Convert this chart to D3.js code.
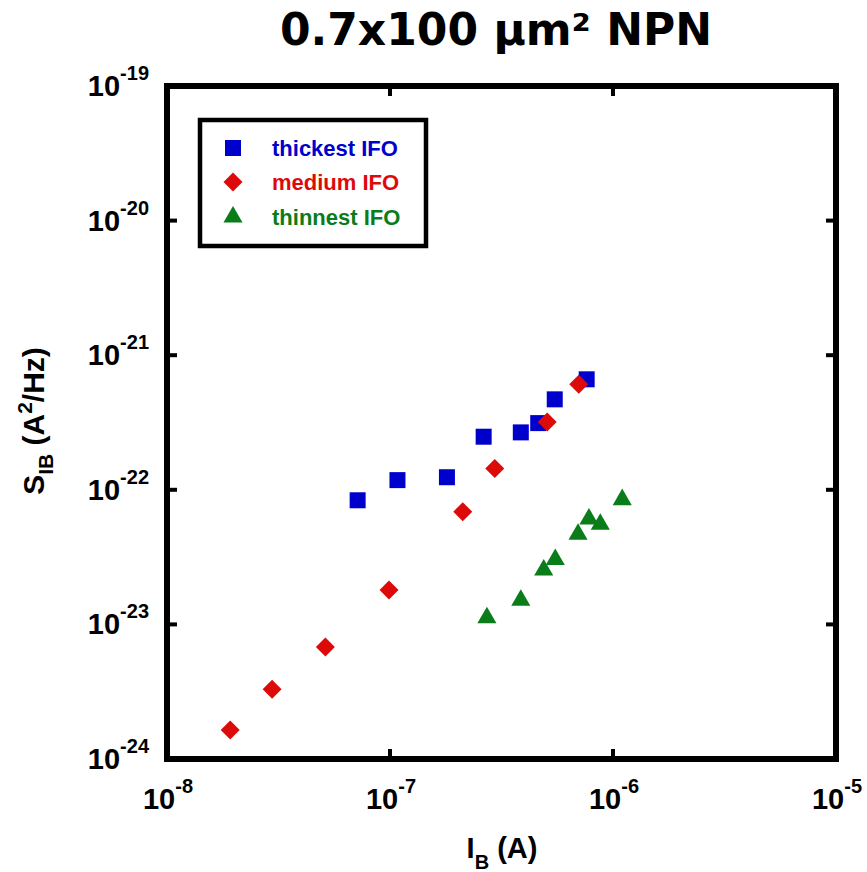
<!DOCTYPE html>
<html>
<head>
<meta charset="utf-8">
<script src="https://d3js.org/d3.v7.min.js"></script>
<style>
  body { margin: 0; background: #fff; }
  svg text { font-family: "Liberation Sans", Arial, sans-serif; font-weight: bold; }
</style>
</head>
<body>
<svg id="chart" width="867" height="872"></svg>
<script>
// data (I_B in A, S_IB in A^2/Hz)
const thickIB = [7.16e-8, 1.08e-7, 1.80e-7, 2.63e-7, 3.86e-7, 4.62e-7, 5.48e-7, 7.62e-7];
const thickS  = [8.36e-23, 1.18e-22, 1.24e-22, 2.48e-22, 2.67e-22, 3.13e-22, 4.70e-22, 6.62e-22];

const mediumIB = [1.92e-8, 2.96e-8, 5.13e-8, 9.9e-8, 2.12e-7, 2.95e-7, 5.07e-7, 7.02e-7];
const mediumS  = [1.64e-24, 3.30e-24, 6.79e-24, 1.80e-23, 6.88e-23, 1.44e-22, 3.19e-22, 6.08e-22];

const thinIB = [2.72e-7, 3.86e-7, 4.89e-7, 5.51e-7, 6.97e-7, 7.80e-7, 8.77e-7, 1.10e-6];
const thinS  = [1.12e-23, 1.51e-23, 2.54e-23, 3.04e-23, 4.67e-23, 6.07e-23, 5.54e-23, 8.45e-23];

const seriesNames = ["thickest IFO", "medium IFO", "thinnest IFO"];
const xTickExp = [-8, -7, -6, -5];
const yTickExp = [-19, -20, -21, -22, -23, -24];

const colors = ["#0000cc", "#dd0a0a", "#0a7d1a"];

const svg = d3.select("#chart");

// plot frame
const plotL = 167, plotR = 836, plotT = 86, plotB = 759;

const x = d3.scaleLog().domain([1e-8, 1e-5]).range([plotL, plotR]);
const y = d3.scaleLog().domain([1e-24, 1e-19]).range([plotB, plotT]);

// symbols: square, diamond (rotated square), triangle
const symbols = [
  { type: d3.symbolSquare, size: 256, rotate: 0 },
  { type: d3.symbolSquare, size: 180, rotate: 45 },
  { type: d3.symbolTriangle, size: 158, rotate: 0 }
];

// title
svg.append("text")
  .attr("x", 496)
  .attr("y", 45)
  .attr("text-anchor", "middle")
  .style("font-family", "'DejaVu Sans', Verdana, sans-serif")
  .style("font-size", "44px")
  .text("0.7x100 µm² NPN");

// ticks (inside, mirrored on all sides)
const tickLen = 10;
const ticks = svg.append("g").attr("stroke", "#000").attr("stroke-width", 4);
xTickExp.forEach(e => {
  const px = x(Math.pow(10, e));
  ticks.append("line").attr("x1", px).attr("x2", px).attr("y1", plotB).attr("y2", plotB - tickLen);
  ticks.append("line").attr("x1", px).attr("x2", px).attr("y1", plotT).attr("y2", plotT + tickLen);
});
yTickExp.forEach(e => {
  const py = y(Math.pow(10, e));
  ticks.append("line").attr("x1", plotL).attr("x2", plotL + tickLen).attr("y1", py).attr("y2", py);
  ticks.append("line").attr("x1", plotR).attr("x2", plotR - tickLen).attr("y1", py).attr("y2", py);
});

// frame
svg.append("rect")
  .attr("x", plotL)
  .attr("y", plotT)
  .attr("width", plotR - plotL)
  .attr("height", plotB - plotT)
  .attr("fill", "none")
  .attr("stroke", "#000")
  .attr("stroke-width", 6);

// tick labels 10^n
function powLabel(g, e) {
  g.append("tspan").style("font-size", "29px").text("10");
  g.append("tspan").style("font-size", "20px").attr("dy", -16).text(e);
}

xTickExp.forEach(e => {
  const t = svg.append("text")
    .attr("x", x(Math.pow(10, e)) + 1)
    .attr("y", 809)
    .attr("text-anchor", "middle");
  powLabel(t, e);
});

yTickExp.forEach(e => {
  const t = svg.append("text")
    .attr("x", 149)
    .attr("y", y(Math.pow(10, e)) + 10)
    .attr("text-anchor", "end");
  powLabel(t, e);
});

// axis titles
const xl = svg.append("text")
  .attr("x", 502)
  .attr("y", 858)
  .attr("text-anchor", "middle")
  .style("font-size", "29px");
xl.append("tspan").text("I");
xl.append("tspan").attr("dy", 11).style("font-size", "20px").text("B");
xl.append("tspan").attr("dy", -11).text(" (A)");

const yl = svg.append("text")
  .attr("transform", "translate(44,421) rotate(-90)")
  .attr("text-anchor", "middle")
  .style("font-size", "30px");
yl.append("tspan").text("S");
yl.append("tspan").attr("dy", 9).style("font-size", "21px").text("IB");
yl.append("tspan").attr("dy", -9).text(" (A");
yl.append("tspan").attr("dy", -12).style("font-size", "21px").text("2");
yl.append("tspan").attr("dy", 12).text("/Hz)");

// data points
const allSeries = [
  thickIB.map((v, i) => [v, thickS[i]]),
  mediumIB.map((v, i) => [v, mediumS[i]]),
  thinIB.map((v, i) => [v, thinS[i]])
];

allSeries.forEach((pts, si) => {
  const sym = d3.symbol().type(symbols[si].type).size(symbols[si].size);
  svg.append("g")
    .selectAll("path")
    .data(pts)
    .enter()
    .append("path")
    .attr("d", sym)
    .attr("transform", d => `translate(${x(d[0])},${y(d[1])}) rotate(${symbols[si].rotate})`)
    .attr("fill", colors[si]);
});

// legend
const legend = svg.append("g");
legend.append("rect")
  .attr("x", 200)
  .attr("y", 120)
  .attr("width", 226)
  .attr("height", 126)
  .attr("fill", "#fff")
  .attr("stroke", "#000")
  .attr("stroke-width", 4.5);

const rowY = [148, 182, 217];
seriesNames.forEach((name, i) => {
  const sym = d3.symbol().type(symbols[i].type).size(symbols[i].size);
  legend.append("path")
    .attr("d", sym)
    .attr("transform", `translate(233,${rowY[i]}) rotate(${symbols[i].rotate})`)
    .attr("fill", colors[i]);
  legend.append("text")
    .attr("x", 272)
    .attr("y", rowY[i] + 8)
    .attr("fill", colors[i])
    .style("font-size", "22px")
    .text(name);
});
</script>
</body>
</html>
